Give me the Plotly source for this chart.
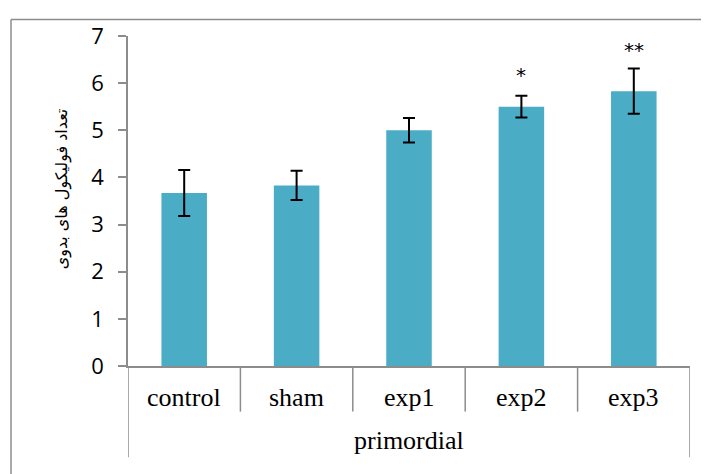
import plotly.graph_objects as go

categories = ["control", "sham", "exp1", "exp2", "exp3"]
group_label = "primordial"
means = [3.67, 3.83, 5.0, 5.5, 5.83]
errors = [0.49, 0.31, 0.26, 0.23, 0.48]
sig_marks = ["", "", "", "*", "**"]
sig_y = [None, None, None, 6.18, 6.71]
y_title = "تعداد فولیکول های بدوی"
y_ticks = [0, 1, 2, 3, 4, 5, 6, 7]

OFF = 8  # default page body margin
W, H = 709 - OFF, 474 - OFF
L, R, T, B = 128 - OFF, 19, 26 - OFF, 108
pw, ph = W - L - R, H - T - B
def px_x(p): return (p - OFF - L) / pw
def px_y(p): return (H - B - (p - OFF)) / ph

gray = "#8c8c8c"
bar_color = "#4BACC6"

fig = go.Figure()
fig.add_trace(go.Bar(
    x=categories, y=means,
    marker=dict(color=bar_color, line=dict(width=0)),
    error_y=dict(type="data", array=errors, visible=True, color="black", thickness=2, width=6),
))

annotations = []
for c, m, yy in zip(categories, sig_marks, sig_y):
    if m:
        annotations.append(dict(x=c, y=yy, xref="x", yref="y", text=m, showarrow=False,
                                font=dict(family="DejaVu Sans", size=20, color="black"),
                                xanchor="center", yanchor="middle"))
for c in categories:
    annotations.append(dict(x=c, y=px_y(398), xref="x", yref="paper", text=c, showarrow=False,
                            font=dict(family="Liberation Serif", size=26, color="black"),
                            xanchor="center", yanchor="middle"))
annotations.append(dict(x=0.5, y=px_y(443), xref="paper", yref="paper", text=group_label,
                        showarrow=False, font=dict(family="Liberation Serif", size=26, color="black"),
                        xanchor="center", yanchor="middle"))
annotations.append(dict(x=px_x(62), y=px_y(184), xref="paper", yref="paper", text=y_title,
                        showarrow=False, textangle=-90, xanchor="center", yanchor="middle",
                        font=dict(family="DejaVu Sans", size=16, color="black")))

shapes = []
n = len(categories)
for k in range(n + 1):
    xk = k - 0.5
    y_end = px_y(460) if k in (0, n) else px_y(413)
    shapes.append(dict(type="line", xref="x", yref="paper", x0=xk, x1=xk, y0=0, y1=y_end,
                       line=dict(color=gray, width=1.5)))
# outer frame
shapes.append(dict(type="line", xref="paper", yref="paper", x0=px_x(11), x1=px_x(11),
                   y0=px_y(480), y1=px_y(9), line=dict(color=gray, width=1.5)))
shapes.append(dict(type="line", xref="paper", yref="paper", x0=px_x(11), x1=px_x(715),
                   y0=px_y(9), y1=px_y(9), line=dict(color=gray, width=1.5)))

fig.update_layout(
    width=W, height=H,
    margin=dict(l=L, r=R, t=T, b=B),
    paper_bgcolor="white", plot_bgcolor="white",
    showlegend=False,
    bargap=0.595,
    annotations=annotations,
    shapes=shapes,
    xaxis=dict(type="category", range=[-0.5, n - 0.5], showticklabels=False, ticks="",
               showline=True, linecolor=gray, linewidth=1.5, showgrid=False, zeroline=False),
    yaxis=dict(range=[0, 7], tickvals=y_ticks, ticks="outside", ticklen=8, tickcolor=gray,
               tickwidth=1.5, showline=True, linecolor=gray, linewidth=1.5, showgrid=False,
               zeroline=False, ticklabelstandoff=10,
               tickfont=dict(family="Open Sans", size=22, color="black")),
)

fig.write_html("out.html")
